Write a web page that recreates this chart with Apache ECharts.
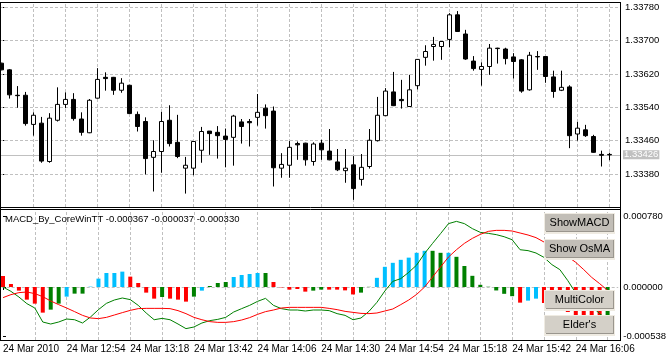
<!DOCTYPE html>
<html><head><meta charset="utf-8">
<script src="https://cdn.jsdelivr.net/npm/echarts@6/dist/echarts.min.js"></script>
<style>html,body{margin:0;padding:0;background:#fff;overflow:hidden}#c{width:669px;height:357px}</style>
</head><body><div id="c"></div>
<script>
// ---------- DATA ----------
const opens = [
1.33646,1.33630,1.33569,1.33569,1.33499,1.33502,1.33410,1.33509,1.33547,1.33559,
1.33512,1.33479,1.33562,1.33612,1.33612,1.33581,1.33593,1.33523,1.33506,1.33420,
1.33434,1.33509,1.33456,1.33394,1.33394,1.33437,1.33483,1.33480,1.33471,1.33468,
1.33505,1.33506,1.33516,1.33538,1.33531,1.33394,1.33401,1.33453,1.33454,1.33410,
1.33454,1.33435,1.33409,1.33388,1.33402,1.33367,1.33398,1.33460,1.33520,1.33577,
1.33559,1.33542,1.33592,1.33660,1.33686,1.33686,1.33703,1.33762,1.33716,1.33651,
1.33631,1.33638,1.33682,1.33680,1.33661,1.33654,1.33582,1.33662,1.33662,1.33613,
1.33581,1.33589,1.33476,1.33486,1.33470,1.33427,1.33427];
const closes = [
1.33630,1.33570,1.33568,1.33501,1.33521,1.33411,1.33514,1.33547,1.33559,1.33513,
1.33480,1.33557,1.33607,1.33609,1.33581,1.33598,1.33525,1.33494,1.33417,1.33434,
1.33506,1.33453,1.33422,1.33401,1.33458,1.33482,1.33477,1.33472,1.33463,1.33519,
1.33494,1.33503,1.33528,1.33520,1.33395,1.33403,1.33444,1.33450,1.33414,1.33452,
1.33438,1.33414,1.33390,1.33394,1.33345,1.33396,1.33461,1.33521,1.33579,1.33544,
1.33556,1.33582,1.33655,1.33674,1.33691,1.33698,1.33762,1.33722,1.33656,1.33633,
1.33638,1.33682,1.33681,1.33657,1.33650,1.33579,1.33665,1.33661,1.33614,1.33578,
1.33588,1.33472,1.33490,1.33472,1.33432,1.33425,1.33426];
const highs = [
1.33647,1.33632,1.33591,1.33577,1.33528,1.33517,1.33526,1.33588,1.33576,1.33574,
1.33528,1.33560,1.33634,1.33624,1.33613,1.33610,1.33594,1.33530,1.33516,1.33461,
1.33529,1.33545,1.33522,1.33421,1.33458,1.33493,1.33483,1.33495,1.33489,1.33522,
1.33512,1.33512,1.33572,1.33547,1.33542,1.33430,1.33459,1.33458,1.33455,1.33456,
1.33462,1.33488,1.33440,1.33440,1.33423,1.33428,1.33488,1.33565,1.33586,1.33625,
1.33606,1.33618,1.33656,1.33689,1.33709,1.33699,1.33766,1.33771,1.33726,1.33663,
1.33648,1.33692,1.33683,1.33683,1.33670,1.33656,1.33673,1.33675,1.33663,1.33628,
1.33628,1.33593,1.33505,1.33498,1.33474,1.33436,1.33431];
const lows = [
1.33629,1.33561,1.33539,1.33496,1.33472,1.33407,1.33407,1.33506,1.33538,1.33508,
1.33472,1.33478,1.33561,1.33580,1.33570,1.33575,1.33524,1.33482,1.33379,1.33338,
1.33383,1.33446,1.33418,1.33333,1.33377,1.33407,1.33426,1.33417,1.33396,1.33400,
1.33453,1.33446,1.33496,1.33489,1.33350,1.33371,1.33371,1.33414,1.33400,1.33400,
1.33414,1.33413,1.33387,1.33359,1.33318,1.33352,1.33393,1.33458,1.33519,1.33543,
1.33537,1.33541,1.33583,1.33640,1.33652,1.33654,1.33684,1.33721,1.33654,1.33628,
1.33592,1.33618,1.33645,1.33643,1.33609,1.33575,1.33580,1.33630,1.33599,1.33563,
1.33579,1.33442,1.33460,1.33469,1.33431,1.33398,1.33413];

const histValues = [
0.000121,0.000033,-0.000040,-0.000139,-0.000183,-0.000282,-0.000249,-0.000183,-0.000106,-0.000073,
-0.000073,0.000004,0.000092,0.000154,0.000154,0.000169,0.000114,0.000044,-0.000062,-0.000128,
-0.000110,-0.000128,-0.000139,-0.000161,-0.000106,-0.000040,0.000011,0.000044,0.000055,0.000110,
0.000132,0.000143,0.000154,0.000154,0.000055,-0.000004,-0.000029,-0.000022,-0.000051,-0.000040,
-0.000029,-0.000029,-0.000029,-0.000037,-0.000082,-0.000062,0.000002,0.000101,0.000222,0.000266,
0.000299,0.000323,0.000376,0.000398,0.000398,0.000376,0.000376,0.000332,0.000231,0.000123,
0.000024,0.000003,-0.000038,-0.000075,-0.000101,-0.000172,-0.000150,-0.000128,-0.000176,-0.000198,
-0.000220,-0.000275,-0.000312,-0.000330,-0.000337,-0.000345,-0.000330];
const histColorCodes = [
'r','r','r','r','r','r','g','g','b','g',
'g','b','b','b','b','b','r','r','r','r',
'g','r','r','r','g','b','g','g','g','b',
'b','b','b','g','r','r','r','r','r','g',
'g','r','r','r','r','g','g','b','b','b',
'b','b','b','b','g','g','b','g','g','g',
'g','g','g','g','g','r','b','b','r','r',
'r','r','r','r','r','r','g'];
const macdLine = [
0.000000,-0.000048,-0.000110,-0.000183,-0.000231,-0.000385,-0.000407,-0.000385,-0.000352,-0.000360,
-0.000396,-0.000330,-0.000249,-0.000180,-0.000143,-0.000121,-0.000139,-0.000202,-0.000286,-0.000360,
-0.000345,-0.000360,-0.000407,-0.000458,-0.000440,-0.000396,-0.000370,-0.000356,-0.000334,-0.000275,
-0.000238,-0.000202,-0.000158,-0.000125,-0.000202,-0.000238,-0.000253,-0.000253,-0.000264,-0.000253,
-0.000253,-0.000260,-0.000293,-0.000312,-0.000360,-0.000341,-0.000268,-0.000169,-0.000044,0.000062,
0.000092,0.000161,0.000242,0.000370,0.000480,0.000587,0.000697,0.000722,0.000697,0.000642,
0.000601,0.000590,0.000576,0.000553,0.000520,0.000410,0.000400,0.000374,0.000326,0.000246,
0.000191,0.000070,-0.000066,-0.000158,-0.000213,-0.000293,-0.000367];
const signalLine = [
-0.000117,-0.000084,-0.000062,-0.000055,-0.000073,-0.000106,-0.000154,-0.000194,-0.000231,-0.000271,
-0.000312,-0.000341,-0.000348,-0.000334,-0.000308,-0.000282,-0.000257,-0.000238,-0.000235,-0.000235,
-0.000235,-0.000238,-0.000260,-0.000293,-0.000334,-0.000360,-0.000381,-0.000389,-0.000389,-0.000381,
-0.000363,-0.000337,-0.000301,-0.000271,-0.000253,-0.000231,-0.000224,-0.000224,-0.000224,-0.000224,
-0.000224,-0.000235,-0.000249,-0.000268,-0.000279,-0.000290,-0.000293,-0.000286,-0.000264,-0.000242,
-0.000194,-0.000143,-0.000081,0.000000,0.000110,0.000220,0.000330,0.000410,0.000480,0.000535,
0.000579,0.000612,0.000623,0.000623,0.000616,0.000594,0.000572,0.000543,0.000495,0.000440,
0.000385,0.000334,0.000271,0.000191,0.000106,0.000037,-0.000037];

const timeLabelIndex = [0,8,16,24,32,40,48,56,64,72];
const timeLabels = ['24 Mar 2010','24 Mar 12:54','24 Mar 13:18','24 Mar 13:42','24 Mar 14:06',
                    '24 Mar 14:30','24 Mar 14:54','24 Mar 15:18','24 Mar 15:42','24 Mar 16:06'];
const priceTicks = [1.33380,1.33460,1.33540,1.33620,1.33700,1.33780];
const macdTicks = [0.000780, 0.000000, -0.000538];
const currentPrice = 1.33426;
const titleText = 'MACD_By_CoreWinTT -0.000367 -0.000037 -0.000330';
const buttonLabels = ['ShowMACD','Show OsMA','MultiColor',"Elder's"];

// ---------- build ----------
const COLORS = {r:'#ff0000', b:'#00bfff', g:'#008000'};
const FONT = 'Liberation Sans, Arial, sans-serif';
const X_MIN = -1.33/8, X_MAX = (620-1.33)/8;
const PRICE_MIN = 1.333008, PRICE_MAX = 1.337928;
const MACD_MIN = -0.000583, MACD_MAX = 0.000858;

const ohlc = opens.map((o,i)=>[i, o, closes[i], lows[i], highs[i]]);
const hist = histValues.map((v,i)=>({value:[i,v], itemStyle:{color:COLORS[histColorCodes[i]]}}));
const macdPts = macdLine.map((v,i)=>[i,v]);
const sigPts = signalLine.map((v,i)=>[i,v]);
const vGrid = [];
for (let i = 4; i < opens.length; i += 4) vGrid.push({xAxis:i});
const hLine = (v, extra) => [Object.assign({coord:[X_MIN, v]}, extra || {}), {coord:[X_MAX, v]}];

const gridDash = {color:'#c0c0c0', type:[3,2], width:1};

const chart = echarts.init(document.getElementById('c'), null, {renderer:'canvas'});

const frame = [
  [0.5,2,0.5,341],[0,2.5,621,2.5],[0,207.5,621,207.5],[0,209.5,621,209.5],
  [0,340.5,621,340.5],[620.5,2,620.5,341]
].map(s=>({type:'line', silent:true, z:50, shape:{x1:s[0],y1:s[1],x2:s[2],y2:s[3]}, style:{stroke:'#000', lineWidth:1}}));

const btnBoxes = [[545,214,69,18,'#c2beb7'],[545,240,69,18,'#c2beb7'],[545,291,69,18,'#d4d0c8'],[545,316,69,18,'#d4d0c8']];
const buttons = [];
btnBoxes.forEach((b,k)=>{
  buttons.push({type:'rect', z:60, silent:true, shape:{x:b[0]-1,y:b[1]-1,width:b[2]+2,height:b[3]+3}, style:{fill:'#efebe2'}});
  buttons.push({type:'rect', z:61, silent:true, shape:{x:b[0]+1,y:b[1],width:b[2]-1,height:b[3]}, style:{fill:'#9a968e'}});
  buttons.push({type:'rect', z:62, silent:true, shape:{x:b[0],y:b[1],width:b[2]-1,height:b[3]-1}, style:{fill:b[4]}});
  buttons.push({type:'text', z:63, silent:true, x:b[0]+b[2]/2, y:b[1]+b[3]/2,
    style:{text:buttonLabels[k], fill:'#000', font:'11px '+FONT, align:'center', verticalAlign:'middle'}});
});

chart.setOption({
  animation:false,
  backgroundColor:'#fff',
  grid:[
    {left:0, top:2, width:620, height:205},
    {left:0, top:209, width:620, height:131}
  ],
  xAxis:[
    {type:'value', gridIndex:0, min:X_MIN, max:X_MAX, show:false},
    {type:'value', gridIndex:1, min:X_MIN, max:X_MAX,
     axisLine:{show:false}, splitLine:{show:false},
     axisTick:{show:true, customValues:timeLabelIndex, length:3, lineStyle:{color:'#000'}},
     axisLabel:{show:true, customValues:timeLabelIndex, align:'left', margin:4,
       fontSize:10, fontFamily:FONT, color:'#000',
       formatter:v=>timeLabels[timeLabelIndex.indexOf(Math.round(v))] || ''}}
  ],
  yAxis:[
    {type:'value', gridIndex:0, position:'right', min:PRICE_MIN, max:PRICE_MAX,
     axisLine:{show:false}, splitLine:{show:false},
     axisTick:{show:true, customValues:priceTicks, length:3, lineStyle:{color:'#000'}},
     axisLabel:{show:true, customValues:priceTicks, margin:5, fontSize:9.5, fontFamily:FONT, color:'#000',
       formatter:v=>v.toFixed(5)}},
    {type:'value', gridIndex:1, position:'right', min:MACD_MIN, max:MACD_MAX,
     axisLine:{show:false}, splitLine:{show:false},
     axisTick:{show:true, customValues:macdTicks, length:3, lineStyle:{color:'#000'}},
     axisLabel:{show:true, customValues:macdTicks, margin:5, fontSize:9.5, fontFamily:FONT, color:'#000',
       formatter:v=>v.toFixed(6)}}
  ],
  series:[
    {type:'line', name:'gridMain', xAxisIndex:0, yAxisIndex:0, data:[], z:1, silent:true,
     markLine:{silent:true, z:1, symbol:['none','none'], animation:false, lineStyle:gridDash, label:{show:false},
       data: priceTicks.map(v=>hLine(v)).concat(vGrid).concat([
         hLine(currentPrice, {lineStyle:{type:'solid', color:'#c0c0c0', width:1},
          label:{show:true, position:'end', distance:3, formatter:currentPrice.toFixed(5),
                 backgroundColor:'#c0c0c0', color:'#fff', fontSize:9.5, fontFamily:FONT,
                 padding:[0,1,0,1], lineHeight:9}})
       ])}},
    {type:'candlestick', name:'price', xAxisIndex:0, yAxisIndex:0, data:ohlc, z:3, barWidth:4,
     itemStyle:{color:'#ffffff', color0:'#000000', borderColor:'#000000', borderColor0:'#000000',
                borderColorDoji:'#000000', borderWidth:1}},
    {type:'line', name:'gridSub', xAxisIndex:1, yAxisIndex:1, data:[], z:1, silent:true,
     markLine:{silent:true, z:1, symbol:['none','none'], animation:false, lineStyle:gridDash, label:{show:false},
       data: vGrid.concat([hLine(0)])}},
    {type:'bar', name:'OsMA', xAxisIndex:1, yAxisIndex:1, data:hist, barWidth:4, z:2},
    {type:'line', name:'MACD', xAxisIndex:1, yAxisIndex:1, data:macdPts, z:4, symbol:'none',
     lineStyle:{color:'#008000', width:1}},
    {type:'line', name:'Signal', xAxisIndex:1, yAxisIndex:1, data:sigPts, z:4, symbol:'none',
     lineStyle:{color:'#ff0000', width:1}}
  ],
  graphic:[].concat(frame, buttons, [
    {type:'text', z:40, silent:true, x:5, y:219,
     style:{text:titleText, fill:'#000', font:'9.5px '+FONT, verticalAlign:'middle'}}
  ])
});
</script></body></html>
